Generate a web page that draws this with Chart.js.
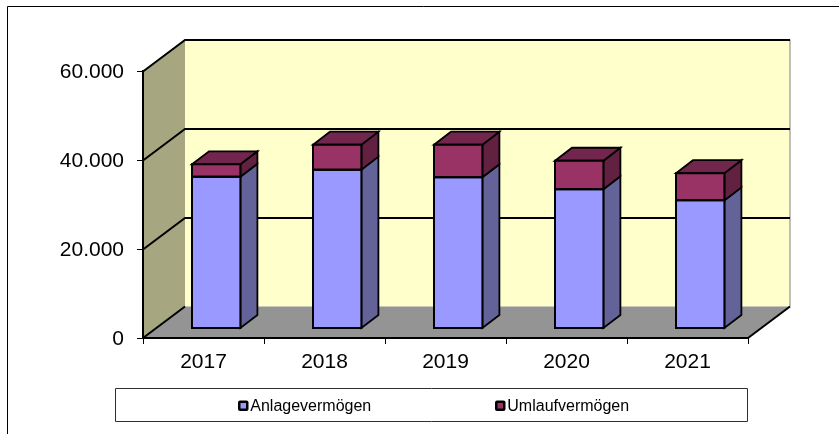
<!DOCTYPE html>
<html>
<head>
<meta charset="utf-8">
<style>
html,body{margin:0;padding:0;background:#fff;overflow:hidden}
canvas{display:block;filter:blur(0.35px)}
</style>
<script src="https://cdn.jsdelivr.net/npm/chart.js@4/dist/chart.umd.min.js"></script>
</head>
<body>
<canvas id="c" width="839" height="434"></canvas>
<script>
const categories = ['2017','2018','2019','2020','2021'];
const anlagevermoegen = [34100,35700,34000,31300,28800];
const umlaufvermoegen = [2800,5600,7300,6400,6100];
const seriesNames = ['Anlagevermögen','Umlaufvermögen'];
const yTicks = [0,20000,40000,60000];

const FONT = '"Liberation Sans", Arial, sans-serif';
const faces = [
  {front:'#9999FF', side:'#636399', top:'#73738F'},
  {front:'#993366', side:'#632142', top:'#73264D'}
];
const WALL = {dx:42, dy:-31.5};
const BAR_SHIFT = {dx:12.7, dy:-9.5};
const BAR_DEPTH = {dx:17, dy:-13};
const LABEL_DROP = 1;

function poly(ctx, pts, fill, stroke, lw){
  ctx.beginPath();
  pts.forEach((p,i)=> i ? ctx.lineTo(p[0],p[1]) : ctx.moveTo(p[0],p[1]));
  ctx.closePath();
  if(fill){ctx.fillStyle=fill;ctx.fill();}
  if(stroke){ctx.strokeStyle=stroke;ctx.lineWidth=lw;ctx.stroke();}
}
function line(ctx, pts, color, lw){
  ctx.beginPath();
  pts.forEach((p,i)=> i ? ctx.lineTo(p[0],p[1]) : ctx.moveTo(p[0],p[1]));
  ctx.strokeStyle=color;ctx.lineWidth=lw;ctx.stroke();
}
function dropLabels(s){
  if(s._dropped) return;
  s._dropped=true;
  const o=s.drawLabels;
  s.drawLabels=function(a){
    const c=this.ctx;c.save();c.translate(0,LABEL_DROP);o.call(this,a);c.restore();
  };
}

const scene3d = {
  id:'scene3d',
  beforeDraw(chart){
    const {ctx, scales:{x,y}} = chart;
    const L=x.left,R=x.right,T=y.getPixelForValue(60000),B=y.getPixelForValue(0);
    const d=WALL;
    ctx.save();
    // page frame
    line(ctx,[[7.5,434],[7.5,6.5],[839,6.5]],'#000',1);
    // walls and floor
    poly(ctx,[[L+d.dx,T+d.dy],[R+d.dx,T+d.dy],[R+d.dx,B+d.dy],[L+d.dx,B+d.dy]],'#FFFFCC');
    poly(ctx,[[L,T],[L+d.dx,T+d.dy],[L+d.dx,B+d.dy],[L,B]],'#A6A680');
    poly(ctx,[[L,B],[L+d.dx,B+d.dy],[R+d.dx,B+d.dy],[R,B]],'#949494');
    line(ctx,[[R+d.dx,T+d.dy],[R+d.dx,B+d.dy]],'#808080',1);
    // gridlines wrapping the wall
    yTicks.slice(1).forEach(v=>{
      const py=y.getPixelForValue(v)+0.5;
      line(ctx,[[L,py],[L+d.dx,py+d.dy],[R+d.dx,py+d.dy]],'#000',2);
    });
    line(ctx,[[L,B],[L+d.dx,B+d.dy]],'#000',2);
    line(ctx,[[R,B],[R+d.dx,B+d.dy]],'#000',2);
    // legend frame and entries
    poly(ctx,[[115.5,388.5],[747.5,388.5],[747.5,421.5],[115.5,421.5]],'#fff','#303030',1);
    const lx=[238,495];
    chart.data.datasets.forEach((ds,i)=>{
      ctx.fillStyle='#000';
      ctx.beginPath();ctx.roundRect(lx[i],400.5,10.5,10.5,2);ctx.fill();
      ctx.fillStyle=ds.backgroundColor;
      ctx.fillRect(lx[i]+2.5,403,5.5,5.5);
      ctx.fillStyle='#000';
      ctx.font='16px '+FONT;
      ctx.textAlign='left';ctx.textBaseline='alphabetic';
      ctx.fillText(ds.label,lx[i]+12.3,410.8);
    });
    ctx.restore();
  },
  beforeDatasetsDraw(chart){
    const ctx=chart.ctx,b=BAR_DEPTH;
    ctx.save();
    ctx.translate(BAR_SHIFT.dx,BAR_SHIFT.dy);
    ctx.lineJoin='miter';
    const last=chart.data.datasets.length-1;
    chart.data.datasets.forEach((ds,i)=>{
      chart.getDatasetMeta(i).data.forEach(el=>{
        const l=el.x-el.width/2,r=el.x+el.width/2;
        poly(ctx,[[r,el.y],[r+b.dx,el.y+b.dy],[r+b.dx,el.base+b.dy],[r,el.base]],faces[i].side,'#000',1.8);
        if(i===last) poly(ctx,[[l,el.y],[l+b.dx,el.y+b.dy],[r+b.dx,el.y+b.dy],[r,el.y]],faces[i].top,'#000',1.8);
      });
    });
  },
  afterDatasetsDraw(chart){
    const ctx=chart.ctx;
    chart.data.datasets.forEach((ds,i)=>{
      chart.getDatasetMeta(i).data.forEach(el=>{
        const l=el.x-el.width/2,r=el.x+el.width/2;
        poly(ctx,[[l,el.y],[r,el.y],[r,el.base],[l,el.base]],null,'#000',2);
      });
    });
    ctx.restore();
  }
};

new Chart(document.getElementById('c'),{
  type:'bar',
  data:{
    labels:categories,
    datasets:[
      {label:seriesNames[0],data:anlagevermoegen,backgroundColor:faces[0].front,borderWidth:0,clip:false},
      {label:seriesNames[1],data:umlaufvermoegen,backgroundColor:faces[1].front,borderWidth:0,clip:false}
    ]
  },
  options:{
    responsive:false,
    animation:false,
    devicePixelRatio:1,
    layout:{padding:{left:0,top:71,right:91,bottom:0}},
    plugins:{legend:{display:false},title:{display:false},tooltip:{enabled:false}},
    datasets:{bar:{categoryPercentage:1,barPercentage:0.4}},
    scales:{
      x:{
        stacked:true,
        afterFit(s){s.height=96;dropLabels(s);},
        grid:{drawOnChartArea:false,drawTicks:true,tickLength:6,color:'#000',lineWidth:1},
        border:{display:true,color:'#000',width:2},
        ticks:{color:'#000',font:{family:FONT,size:21},padding:5,maxRotation:0}
      },
      y:{
        stacked:true,
        min:0,max:60000,
        afterBuildTicks(s){s.ticks=yTicks.map(v=>({value:v}));},
        afterFit(s){s.width=143;dropLabels(s);},
        grid:{drawOnChartArea:false,drawTicks:true,tickLength:6,color:'#000',lineWidth:1},
        border:{display:true,color:'#000',width:2},
        ticks:{color:'#000',font:{family:FONT,size:21},padding:13,
          callback(v){return v===0?'0':String(v).replace(/\B(?=(\d{3})+$)/g,'.');}}
      }
    }
  },
  plugins:[scene3d]
});
</script>
</body>
</html>
